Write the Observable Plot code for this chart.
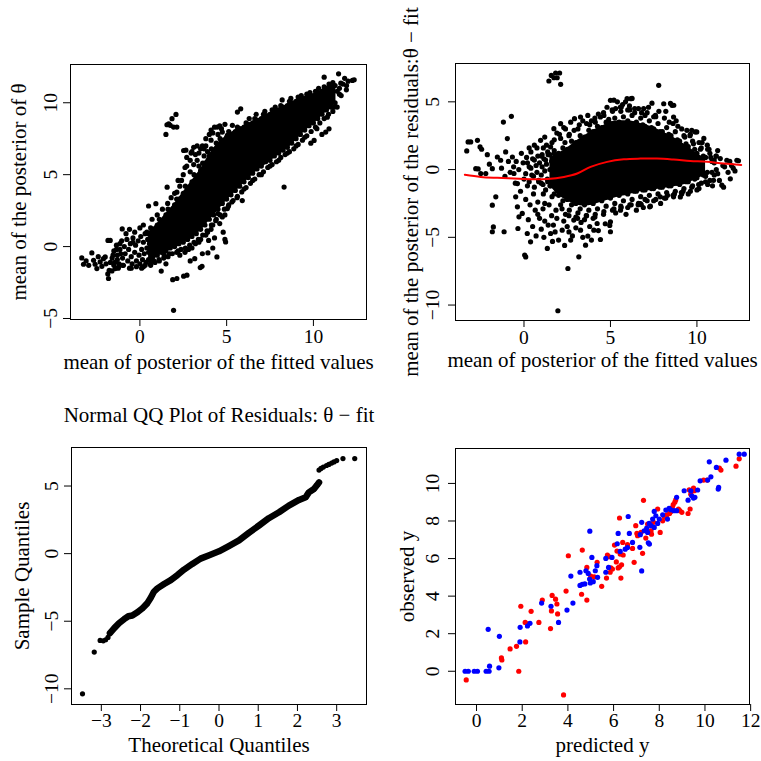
<!DOCTYPE html>
<html><head><meta charset="utf-8">
<script src="https://cdn.jsdelivr.net/npm/d3@7"></script>
<script src="https://cdn.jsdelivr.net/npm/@observablehq/plot@0.6"></script>
<style>
body{margin:0;background:#fff;}
#wrap{position:relative;width:761px;height:761px;overflow:hidden;background:#fff;}
</style></head><body><div id="wrap"></div>
<script>
// ---------- Top-left: theta vs fitted ----------
// dense core of the cloud: [x, lower y, upper y]
const tlCore = [[0.5,-1.0,1.0],[1.0,-0.7,1.6],[1.5,-0.4,2.3],[2.0,-0.1,3.0],[2.5,0.2,3.8],[3.0,0.6,4.6],[3.5,1.1,5.4],[4.0,1.8,6.4],[4.5,2.5,7.2],[5.0,3.2,7.7],[5.5,3.8,8.1],[6.0,4.4,8.4],[6.5,5.0,8.7],[7.0,5.5,9.0],[7.5,5.9,9.3],[8.0,6.4,9.6],[8.5,6.8,9.9],[9.0,7.4,10.2],[9.5,8.0,10.4],[10.0,8.5,10.6],[10.5,9.1,10.9],[11.0,9.6,11.2],[11.3,10.0,11.3]];
const tlPts = [
[-3.35,-0.79],[-3.25,-1.23],[-3.1,-1.0],[-2.95,-1.3],[-2.77,-0.44],[-2.67,-0.95],[-2.58,-1.23],[-2.48,-1.53],[-2.4,-0.7],[-2.29,-1.07],[-2.19,-1.37],[-2.1,-0.84],[-2.0,-0.72],[-1.95,-1.2],[-1.81,-2.22],[-1.85,-1.9],[-1.77,-1.65],[-1.84,0.43],[-1.71,0.43],[-1.7,-1.1],[-1.61,-1.69],[-1.55,-0.6],[-1.5,-1.3],[-1.42,-1.53],[-1.35,-0.2],[-1.3,-0.9],[-1.23,-1.42],[-1.15,0.2],[-1.1,-0.5],[-1.02,1.23],[-1.0,-1.3],
[-0.8,0.9],[-0.6,1.2],[-0.5,-1.5],[-0.4,0.3],[-0.3,1.0],[-0.2,-1.4],[0.0,1.3],[0.1,-1.5],[0.2,1.5],[0.3,-1.3],[0.5,2.82],[0.4,1.0],[0.6,-1.2],[0.7,1.9],[0.8,-1.0],[0.92,2.98],[1.0,2.2],[1.1,-0.9],[1.23,-1.7],[1.3,2.6],[1.5,-1.2],[1.4,-0.6],[1.57,4.13],[1.6,3.0],[1.7,-0.5],[1.89,-2.3],[1.94,-4.43],[1.8,3.4],[2.0,3.7],[2.13,-2.22],[2.13,3.78],[2.2,-0.3],[2.3,4.2],[2.4,4.6],[2.52,-2.06],[2.52,6.68],[2.6,5.5],[2.71,-1.99],[2.7,6.2],[2.8,-0.2],[2.9,5.2],[3.0,6.6],[3.1,6.9],[3.16,-0.84],[3.2,0.2],[3.3,6.0],[3.4,6.5],[3.48,-1.46],[3.58,-1.37],[3.5,0.5],[3.6,7.0],[3.7,6.8],[3.8,7.5],[3.92,-0.44],[3.96,0.43],[3.9,1.0],[4.0,7.8],[4.1,8.1],[4.2,1.5],[4.3,8.3],[4.44,-0.72],[4.4,1.9],[4.46,8.31],[4.5,2.3],[4.6,8.4],[4.75,7.96],[4.75,2.06],[4.94,0.32],[4.9,0.5],[5.04,2.64],[5.04,7.73],[5.33,8.43],[5.62,9.35],[5.81,9.58],[5.9,3.2],[5.6,3.4],[6.0,4.0],[6.3,8.9],[6.5,4.6],[6.7,9.2],[7.0,5.0],[7.2,9.4],[7.5,5.6],[7.8,9.7],[8.0,6.0],[8.31,4.14],[8.2,10.2],[8.5,6.5],[8.7,10.3],[9.0,7.0],[9.3,10.5],[9.5,7.6],[9.85,7.19],[10.04,7.38],[9.8,10.7],[10.2,8.2],[10.3,11.0],[10.49,7.8],[10.71,7.96],[10.9,8.19],[10.62,11.78],[10.8,9.0],[10.9,11.3],[11.1,10.74],[11.2,9.7],[11.45,12.01],[11.58,11.36],[11.91,11.2],[11.5,10.6],[12.25,11.55],[12.35,11.6],[11.9,10.9],
[2.08,9.19],[1.85,8.89],[1.66,8.54],[1.56,8.47],[1.75,8.43],[1.94,8.31],[2.13,8.31],[1.5,7.8],
[11.5,11.0],[11.7,11.3],[11.6,10.5],[12.0,11.5],[11.8,11.7],
[2.2,4.6],[2.5,5.0],[2.7,5.6],[2.9,6.0],[3.1,5.7],[3.2,6.4],[3.4,5.6],[3.5,6.8],[3.7,6.3],[3.8,7.0],[3.9,6.6],[4.1,7.4],[4.2,7.9],[4.4,7.2],[4.5,7.8],[4.7,8.2],[4.9,8.5],[3.3,7.0],[2.95,6.5],[2.65,6.7],
[2.3,-0.6],[2.6,-0.4],[3.0,-0.1],[3.4,0.3],[3.8,0.8],[4.1,1.2],[4.3,0.6],[4.6,1.6],[4.9,2.2],[5.1,2.8],[5.3,3.1],[4.8,1.0],[4.2,-0.1],[3.6,-0.5],[2.9,-1.0]
];
const tlLeft = [[-1.6,-0.8],[-1.5,-0.3],[-1.45,-1.1],[-1.35,0.1],[-1.3,-0.6],[-1.2,-1.2],[-1.15,-0.2],[-1.05,0.4],[-1.0,-0.8],[-0.95,-1.3],[-0.9,0.0],[-0.85,-0.5],[-0.75,0.5],[-0.7,-1.0],[-0.65,-0.2],[-0.55,0.2],[-0.5,-0.7],[-0.45,-1.2],[-0.4,0.6],[-0.3,-0.4],[-0.25,0.1],[-0.2,-1.0],[-0.1,0.4],[-0.05,-0.6],[0.0,-1.2],[0.05,0.7],[0.1,-0.2],[0.15,-0.9],[0.2,0.3],[0.25,-0.5],[0.3,0.9],[0.35,-1.1],[0.4,-0.1],[0.45,0.5],[0.5,-0.4],[0.55,0.2],[0.6,-0.9],[0.65,0.6],[-1.25,-1.5],[-0.6,-1.5],[0.2,-1.4]];
const tlUpper = [[0.5,0.9],[0.62,1.3],[0.75,1.1],[0.87,0.8],[1.0,1.5],[1.12,1.9],[1.25,1.8],[1.37,1.4],[1.5,2.2],[1.62,2.6],[1.75,2.5],[1.87,2.0],[2.0,2.9],[2.12,3.3],[2.25,3.3],[2.37,2.8],[2.5,3.7],[2.62,4.2],[2.75,4.1],[2.87,3.6],[3.0,4.5],[3.12,5.0],[3.25,4.9],[3.37,4.4],[3.5,5.3],[3.62,5.8],[3.75,5.8],[3.87,5.2],[4.0,6.3],[4.12,6.8],[4.25,6.7],[4.37,6.2],[4.5,7.1],[4.62,7.5],[4.75,7.3],[4.87,6.9],[5.0,7.6],[5.12,8.0],[5.25,7.8],[5.37,7.4],[5.5,8.0],[5.62,8.3],[5.75,8.2],[5.87,7.7],[6.0,8.3],[6.12,8.6],[6.25,8.5],[6.37,8.0],[6.5,8.6],[6.62,8.9],[6.75,8.8],[6.87,8.3],[7.0,8.9],[7.12,9.2],[7.25,9.1],[7.37,8.6],[7.5,9.2],[7.62,9.5],[7.75,9.4],[7.87,8.9],[8.0,9.5],[8.12,9.8],[8.25,9.7],[8.37,9.2],[8.5,9.8],[8.62,10.1],[8.75,10.0],[8.87,9.5],[9.0,10.1],[9.12,10.4],[9.25,10.3],[9.37,9.8],[9.5,10.3],[9.62,10.6],[9.75,10.5],[9.87,10.0],[10.0,10.5],[10.12,10.8],[10.25,10.7],[10.37,10.3],[10.5,10.8],[10.62,11.1],[10.75,11.0],[10.87,10.6],[11.0,11.1],[11.12,11.4],[11.25,11.2],[11.37,10.8]];
const tlLower = [[0.5,-0.9],[0.62,-1.3],[0.75,-0.7],[0.87,-1.1],[1.0,-0.6],[1.12,-1.0],[1.25,-0.4],[1.37,-0.8],[1.5,-0.3],[1.62,-0.7],[1.75,-0.1],[1.87,-0.5],[2.0,0.0],[2.12,-0.4],[2.25,0.2],[2.37,-0.2],[2.5,0.3],[2.62,-0.1],[2.75,0.5],[2.87,0.1],[3.0,0.7],[3.12,0.3],[3.25,0.9],[3.37,0.5],[3.5,1.2],[3.62,0.8],[3.75,1.5],[3.87,1.1],[4.0,1.9],[4.12,1.5],[4.25,2.2],[4.37,1.8],[4.5,2.6],[4.62,2.2],[4.75,3.0],[4.87,2.6],[5.0,3.3],[5.12,2.9],[5.25,3.6],[5.37,3.2],[5.5,3.9],[5.62,3.5],[5.75,4.2],[5.87,3.8],[6.0,4.5],[6.12,4.1],[6.25,4.8],[6.37,4.4],[6.5,5.1],[6.62,4.7],[6.75,5.4],[6.87,5.0],[7.0,5.6],[7.12,5.2],[7.25,5.9],[7.37,5.5],[7.5,6.0],[7.62,5.7],[7.75,6.3],[7.87,5.9],[8.0,6.5],[8.12,6.2],[8.25,6.7],[8.37,6.4],[8.5,6.9],[8.62,6.6],[8.75,7.2],[8.87,6.8],[9.0,7.5],[9.12,7.1],[9.25,7.8],[9.37,7.4],[9.5,8.1],[9.62,7.7],[9.75,8.4],[9.87,8.0],[10.0,8.6],[10.12,8.3],[10.25,8.9],[10.37,8.6],[10.5,9.2],[10.62,8.9],[10.75,9.5],[10.87,9.2],[11.0,9.7],[11.12,9.4],[11.25,10.0],[11.37,9.7]];
const tlXTicks = [0,5,10];
const tlYTicks = [-5,0,5,10];

// ---------- Top-right: residuals vs fitted ----------
const trCore = [[1.5,-1.2,0.9],[2.0,-1.9,1.2],[2.5,-2.3,1.6],[3.0,-2.6,2.1],[3.5,-2.7,2.5],[4.0,-2.6,2.9],[4.5,-2.4,3.2],[5.0,-2.2,3.5],[5.5,-2.0,3.6],[6.0,-1.9,3.6],[6.5,-1.7,3.5],[7.0,-1.6,3.3],[7.5,-1.5,3.1],[8.0,-1.4,2.8],[8.5,-1.3,2.5],[9.0,-1.2,2.1],[9.5,-1.0,1.7],[10.0,-0.7,1.2],[10.5,-0.4,0.8]];
const trPts = [
[-3.31,1.38],[-3.23,2.04],[-3.08,2.04],[-2.69,2.16],[-2.54,1.67],[-2.45,1.5],[-2.79,0.07],[-2.65,0.05],[-2.5,-0.29],[-2.21,-0.29],[-2.12,1.1],[-2.0,0.4],[-1.83,0.07],[-1.83,-2.63],[-1.63,-2.01],[-1.77,-4.23],[-1.83,-4.59],[-1.15,-4.59],[-1.19,3.51],[-0.73,3.93],[-0.96,2.29],[-1.54,0.93],[-1.35,0.69],[-1.3,0.1],[-1.06,1.3],[-1.1,-0.5],[-0.9,0.6],[-0.8,-0.2],[-0.67,0.93],[-0.6,0.2],[-0.58,-0.29],[-0.5,-1.0],[-0.45,0.6],[-0.38,-1.03],[-0.3,0.0],[-0.48,-2.01],[-0.38,-2.75],[-0.29,-3.49],[-0.35,-4.35],[-0.2,-1.6],[-0.15,1.2],[-0.1,-3.24],[-0.05,0.5],[0.0,-0.7],[0.04,-6.31],[0.1,-6.45],[0.1,-2.2],[0.15,0.9],[0.19,-4.72],[0.2,-1.2],[0.25,-3.7],[0.3,0.2],[0.38,-5.33],[0.35,-2.6],[0.4,1.3],[0.45,-0.4],[0.5,-4.2],[0.55,-1.8],[0.6,0.7],[0.65,-3.0],[0.7,-4.9],[0.75,1.6],[0.8,-2.4],[0.85,-0.9],[0.9,-3.6],[0.96,2.16],[1.0,-4.4],[1.05,1.1],[1.1,-2.9],[1.15,-5.0],[1.2,-3.8],[1.3,1.8],[1.35,-5.82],[1.4,-4.1],[1.45,-2.6],[1.54,1.67],[1.54,-4.72],[1.6,-3.4],[1.65,-5.3],[1.73,3.02],[1.75,2.2],[1.8,-4.6],[1.85,-3.0],[1.96,-10.42],[2.0,-5.2],[2.05,2.6],[2.12,3.39],[2.21,-4.47],[2.3,-3.8],[2.35,-5.6],[2.4,3.0],[2.5,-4.2],[2.54,-7.3],[2.6,-3.4],[2.7,3.5],[2.8,-4.9],[2.88,-3.73],[2.92,3.76],[3.0,-4.3],[3.1,-3.6],[3.17,-6.44],[3.27,3.88],[3.27,-4.47],[3.4,-5.0],[3.5,-3.7],[3.56,-5.58],[3.69,4.0],[3.69,-4.91],[3.8,-4.2],[3.9,3.6],[4.04,-4.47],[4.1,-3.5],[4.23,-3.98],[4.3,4.1],[4.42,3.88],[4.42,-5.16],[4.6,-3.3],[4.8,4.6],[5.0,5.11],[5.0,-3.86],[5.0,-4.59],[4.96,-4.12],[5.1,4.4],[5.2,5.12],[5.3,-3.2],[5.58,4.62],[5.58,-3.0],[5.7,4.8],[5.87,5.0],[5.96,5.23],[6.0,-2.8],[6.19,5.23],[6.25,5.25],[6.4,4.2],[6.6,-2.6],[6.73,-2.51],[6.78,-2.58],[6.92,4.5],[7.0,4.0],[7.27,-2.75],[7.31,-2.7],[7.5,3.9],[7.79,6.22],[7.8,4.3],[7.88,-2.01],[8.08,4.86],[8.2,-2.1],[8.47,4.88],[8.56,4.74],[8.65,3.88],[8.65,-2.01],[8.66,4.75],[8.9,3.2],[9.04,-2.02],[9.2,-1.6],[9.42,2.9],[9.6,2.5],[9.7,-1.3],[9.9,2.78],[9.99,2.78],[10.1,-1.1],[10.3,2.0],[10.5,-0.9],[10.7,1.5],[10.96,-0.79],[11.0,0.5],[11.1,1.0],[11.2,-0.3],[11.35,0.81],[11.44,-1.15],[11.54,-1.3],[11.6,0.2],[11.73,0.69],[11.93,-0.68],[12.0,0.3],[12.31,0.69],[12.4,0.65],
[1.44,6.54],[1.58,6.95],[1.83,7.13],[2.06,7.13],[1.92,6.78],[2.12,6.29],[1.73,6.78],
[0.8,-3.3],[1.2,-2.5],[1.9,-3.6],[2.2,-2.9],[2.6,-4.6],[3.0,-3.5],[3.3,-3.9],[3.6,-3.4],[4.0,-3.6],[4.3,-4.5],[4.7,-4.0],[2.7,-5.2],[1.7,-4.1],[2.4,-3.3],[3.9,-5.2],
[1.9,2.7],[2.3,3.1],[2.6,2.5],[3.2,3.3],[3.4,3.6],[3.8,3.3],[4.1,3.8],[4.6,4.2],[4.9,3.7],[2.9,2.9],[1.2,2.4],[0.6,1.8],[0.3,1.6],
[9.3,2.4],[9.8,1.9],[10.2,1.5],[10.4,2.3],[10.8,0.9],[11.2,1.4],[11.5,0.3],[11.8,-0.2],[12.1,0.1],[10.6,-0.2],[10.9,-1.2],[11.3,-0.8],[10.0,-1.5],[9.5,-1.8],[9.7,2.9],[10.6,1.8],[11.9,0.6],[12.2,-0.1],
[5.3,4.5],[5.6,4.3],[6.1,4.7],[6.4,4.5],[6.8,4.2],[7.2,4.6],[7.6,4.0],[8.2,4.3],[8.4,3.5],[5.4,5.0],[6.0,4.4],[7.4,4.9],[8.8,3.6],
[5.2,-2.9],[5.6,-2.7],[6.2,-2.6],[6.5,-3.0],[7.0,-2.2],[7.5,-2.3],[7.9,-2.5],[8.3,-1.9],[8.7,-1.8],[9.1,-1.7],[5.9,-3.3],[6.9,-2.8]
];
const trLeft = [[0.1,-0.3],[0.2,0.5],[0.3,-0.9],[0.4,0.1],[0.5,0.8],[0.55,-0.5],[0.6,-1.3],[0.7,0.3],[0.75,-0.2],[0.8,1.0],[0.85,-0.8],[0.9,0.5],[1.0,-0.4],[1.05,0.2],[1.1,-1.1],[1.15,0.8],[1.2,-0.1],[1.3,0.4],[1.35,-0.7],[1.4,1.1],[1.5,0.0],[1.55,-1.2],[1.6,0.6],[1.7,-0.4],[1.75,1.2],[1.8,-0.9],[1.9,0.3],[1.95,-1.5],[2.0,0.9],[2.1,-0.6]];
const trUpper = [[1.0,1.0],[1.12,1.6],[1.25,0.7],[1.37,1.3],[1.5,1.1],[1.62,2.0],[1.75,1.4],[1.87,0.9],[2.0,1.2],[2.12,2.3],[2.25,1.6],[2.37,2.0],[2.5,1.5],[2.62,2.6],[2.75,2.1],[2.87,1.7],[3.0,2.0],[3.12,3.0],[3.25,2.5],[3.37,2.2],[3.5,2.4],[3.62,3.4],[3.75,2.9],[3.87,2.6],[4.0,2.8],[4.12,3.5],[4.25,3.2],[4.37,2.7],[4.5,3.1],[4.62,4.0],[4.75,3.5],[4.87,3.0],[5.0,3.4],[5.12,4.3],[5.25,3.8],[5.37,3.3],[5.5,3.5],[5.62,4.6],[5.75,3.9],[5.87,3.4],[6.0,3.6],[6.12,4.4],[6.25,4.0],[6.37,3.4],[6.5,3.5],[6.62,4.5],[6.75,3.8],[6.87,3.3],[7.0,3.2],[7.12,4.2],[7.25,3.6],[7.37,3.1],[7.5,3.0],[7.62,3.9],[7.75,3.4],[7.87,2.8],[8.0,2.8],[8.12,3.8],[8.25,3.1],[8.37,2.6],[8.5,2.5],[8.62,3.4],[8.75,2.8],[8.87,2.2],[9.0,2.1],[9.12,3.0],[9.25,2.5],[9.37,1.9],[9.5,1.7],[9.62,2.6],[9.75,2.1],[9.87,1.5],[10.0,1.2],[10.12,2.0],[10.25,1.6],[10.37,1.0],[10.5,0.9],[10.62,1.5],[10.75,1.2],[10.87,0.6],[11.0,0.7],[11.12,1.0]];
const trLower = [[1.0,-1.0],[1.12,-1.8],[1.25,-1.5],[1.37,-0.9],[1.5,-1.2],[1.62,-2.0],[1.75,-1.8],[1.87,-1.4],[2.0,-1.9],[2.12,-2.6],[2.25,-2.3],[2.37,-1.7],[2.5,-2.2],[2.62,-3.0],[2.75,-2.6],[2.87,-2.0],[3.0,-2.5],[3.12,-3.2],[3.25,-2.9],[3.37,-2.3],[3.5,-2.6],[3.62,-3.4],[3.75,-3.0],[3.87,-2.4],[4.0,-2.5],[4.12,-3.3],[4.25,-2.9],[4.37,-2.2],[4.5,-2.3],[4.62,-3.1],[4.75,-2.7],[4.87,-2.0],[5.0,-2.1],[5.12,-3.0],[5.25,-2.5],[5.37,-1.8],[5.5,-1.9],[5.62,-2.8],[5.75,-2.3],[5.87,-1.7],[6.0,-1.8],[6.12,-2.6],[6.25,-2.2],[6.37,-1.6],[6.5,-1.6],[6.62,-2.5],[6.75,-2.0],[6.87,-1.5],[7.0,-1.5],[7.12,-2.3],[7.25,-1.9],[7.37,-1.4],[7.5,-1.4],[7.62,-2.2],[7.75,-1.8],[7.87,-1.3],[8.0,-1.3],[8.12,-2.1],[8.25,-1.7],[8.37,-1.2],[8.5,-1.2],[8.62,-1.9],[8.75,-1.6],[8.87,-1.0],[9.0,-1.1],[9.12,-1.8],[9.25,-1.4],[9.37,-0.9],[9.5,-0.9],[9.62,-1.6],[9.75,-1.2],[9.87,-0.7],[10.0,-0.6],[10.12,-1.4],[10.25,-1.0],[10.37,-0.4],[10.5,-0.5],[10.62,-1.1],[10.75,-0.8],[10.87,-0.2],[11.0,-0.4],[11.12,0.0]];
const trFit = [[-3.42,-0.39],[-2.5,-0.54],[-1.54,-0.61],[-0.58,-0.66],[0.38,-0.71],[1.35,-0.69],[2.31,-0.54],[3.08,-0.29],[3.85,0.2],[4.81,0.57],[5.77,0.76],[6.73,0.81],[7.69,0.81],[8.65,0.74],[9.62,0.64],[10.58,0.57],[11.54,0.44],[12.56,0.34]];
const trXTicks = [0,5,10];
const trYTicks = [-10,-5,0,5];

// ---------- Bottom-left: normal QQ ----------
const qqLow = [[-3.48,-10.37],[-3.18,-7.28],[-3.03,-6.42],[-2.95,-6.45],[-2.89,-6.37],[-2.83,-6.2]];
const qqBody = [[-2.78,-5.88],[-2.67,-5.51],[-2.55,-5.15],[-2.42,-4.85],[-2.31,-4.63],[-2.21,-4.58],[-2.08,-4.34],[-1.95,-4.04],[-1.83,-3.68],[-1.74,-3.26],[-1.66,-2.82],[-1.57,-2.57],[-1.4,-2.25],[-1.23,-1.96],[-1.06,-1.59],[-0.89,-1.18],[-0.68,-0.76],[-0.47,-0.37],[-0.25,-0.12],[0.0,0.17],[0.25,0.56],[0.51,0.98],[0.76,1.54],[1.02,2.08],[1.27,2.62],[1.53,3.06],[1.78,3.55],[2.04,3.97],[2.21,4.17],[2.29,4.53],[2.42,4.78],[2.5,5.07],[2.55,5.27]];
const qqHigh = [[2.55,6.18],[2.6,6.3],[2.66,6.4],[2.74,6.52],[2.8,6.6],[2.87,6.7],[2.93,6.78],[3.0,6.88],[3.16,7.03],[3.46,7.03]];
const qqXTicks = [-3,-2,-1,0,1,2,3];
const qqYTicks = [-10,-5,0,5];

// ---------- Bottom-right: observed vs predicted ----------
const brBlue = [[-0.5,0],[-0.36,0],[-0.1,0],[0.04,0],[0.42,0],[0.55,0],[0.57,0.27],[0.98,0.18],[0.51,2.23],[1.0,1.86],[1.9,1.56],[1.91,2.34],[2.23,2.41],[2.34,2.55],[2.85,3.63],[3.26,3.46],[3.59,2.6],[3.96,3.26],[4.22,3.63],[4.13,5.07],[4.53,5.27],[4.53,4.57],[4.63,4.63],[4.74,4.65],[4.79,5.35],[4.89,5.21],[4.96,7.46],[4.95,4.91],[4.98,4.7],[5.05,6.06],[5.11,4.77],[5.2,5.35],[5.27,5.62],[5.3,5.0],[5.66,5.27],[5.66,6.01],[5.78,5.53],[5.93,6.06],[6.16,6.79],[6.2,7.34],[6.29,6.38],[6.51,6.5],[6.61,6.59],[6.64,8.24],[6.69,7.34],[6.83,6.86],[7.15,6.6],[7.17,7.27],[7.23,5.34],[7.23,7.93],[7.34,7.48],[7.45,7.62],[7.49,7.39],[7.52,6.84],[7.57,6.77],[7.56,7.87],[7.64,7.75],[7.71,8.1],[7.78,8.51],[7.78,7.66],[7.85,8.28],[7.93,7.87],[8.0,8.1],[8.15,8.33],[8.29,8.58],[8.36,8.1],[8.43,8.67],[8.5,8.6],[8.64,8.55],[8.76,9.26],[8.76,8.55],[9.09,9.61],[9.26,9.11],[9.38,9.61],[9.42,9.34],[9.5,9.22],[9.56,9.26],[9.68,9.65],[9.79,10.14],[10.12,10.18],[10.19,11.15],[10.26,10.35],[10.5,10.85],[10.58,9.7],[10.6,9.79],[10.92,11.24],[11.5,11.56],[11.72,11.56]];
const brRed = [[-0.45,-0.46],[1.09,0.71],[1.11,0.6],[1.47,1.19],[1.75,1.33],[1.85,0],[1.94,3.46],[2.13,2.6],[2.15,1.56],[2.23,2.53],[2.39,3.19],[2.73,2.6],[2.88,3.79],[3.24,2.27],[3.28,3.21],[3.31,4.04],[3.46,3.84],[3.52,3.58],[3.55,3.05],[3.81,-1.26],[3.92,4.27],[4.02,6.15],[4.6,4.1],[4.63,6.45],[4.83,3.79],[4.83,5.53],[5.0,5.07],[5.15,5.02],[5.28,5.8],[5.48,4.52],[5.69,4.96],[5.73,6.19],[5.79,6.1],[5.85,5.27],[5.88,5.5],[5.95,5.44],[6.04,6.72],[6.12,5.82],[6.15,6.4],[6.2,5.5],[6.26,8.16],[6.26,5.56],[6.29,6.24],[6.32,4.96],[6.35,5.67],[6.4,6.86],[6.42,6.19],[6.61,6.74],[6.83,6.54],[6.9,5.8],[6.97,7.75],[7.02,7.34],[7.05,7.22],[7.2,7.39],[7.27,6.28],[7.31,9.1],[7.41,7.09],[7.49,7.84],[7.64,7.48],[7.66,7.3],[7.75,7.93],[7.93,8.64],[8.04,7.39],[8.15,8.01],[8.22,8.23],[8.34,8.33],[8.45,8.4],[8.5,8.49],[8.57,8.72],[8.61,8.87],[8.68,9.0],[8.72,9.12],[8.84,8.64],[8.9,8.55],[8.99,8.46],[9.26,8.4],[9.31,9.66],[9.35,8.64],[9.38,9.43],[9.5,9.75],[9.53,9.61],[9.94,10.18],[10.09,10.18],[10.63,10.82],[10.7,10.71],[11.36,10.92],[11.5,11.31]];
const brXTicks = [0,2,4,6,8,10,12];
const brYTicks = [0,2,4,6,8,10];

// ---------- Labels ----------
const tlXLabel = "mean of posterior of the fitted values";
const tlYLabel = "mean of the posterior of θ";
const trXLabel = "mean of posterior of the fitted values";
const trYLabel = "mean of the posterior of the residuals:θ − fit";
const qqTitle = "Normal QQ Plot of Residuals: θ − fit";
const qqXLabel = "Theoretical Quantiles";
const qqYLabel = "Sample Quantiles";
const brXLabel = "predicted y";
const brYLabel = "observed y";

const FONT = "Liberation Serif";
const fmt = d3.format("d");
const X = d => d[0], Y = d => d[1];
const dots = (data, fill = "black") => Plot.dot(data, {x: X, y: Y, r: 2.6, fill, stroke: "none"});
const core = (data) => Plot.area(data, {x1: d => d[0], y1: d => d[1], y2: d => d[2], fill: "black", curve: "catmull-rom"});

function panel(o) {
  const marks = [
    ...o.marks,
    Plot.frame({stroke: "black", strokeWidth: 1}),
    Plot.axisX(o.xTicks, {anchor: "bottom", tickSize: 7, fill: "none", stroke: "black"}),
    Plot.axisY(o.yTicks, {anchor: "left", tickSize: 7, fill: "none", stroke: "black"}),
    Plot.text(o.xTicks, {x: d => d, text: d => fmt(d), frameAnchor: "bottom", dy: o.xTickDy, lineAnchor: "bottom", textAnchor: "middle", fontSize: 19.5, fill: "black"}),
    Plot.text(o.yTicks, {y: d => d, text: d => fmt(d), frameAnchor: "left", dx: o.yTickDx, rotate: -90, lineAnchor: "bottom", textAnchor: "middle", fontSize: 19.5, fill: "black"}),
    Plot.text([o.xLabel], {text: d => d, frameAnchor: "bottom", dy: o.xLabelDy, lineAnchor: "bottom", textAnchor: "middle", fontSize: 21, fill: "black"}),
    Plot.text([o.yLabel], {text: d => d, frameAnchor: "left", dx: o.yLabelDx, rotate: -90, lineAnchor: "bottom", textAnchor: "middle", fontSize: 21, fill: "black"})
  ];
  if (o.title) marks.push(Plot.text([o.title], {text: d => d, frameAnchor: "top", dy: o.titleDy, lineAnchor: "bottom", textAnchor: "middle", fontSize: 21, fill: "black"}));
  const svg = Plot.plot({
    width: o.width, height: o.height,
    marginLeft: o.m[0], marginRight: o.m[1], marginTop: o.m[2], marginBottom: o.m[3],
    x: {domain: o.xDomain}, y: {domain: o.yDomain},
    style: {fontFamily: FONT, background: "transparent", overflow: "visible", color: "black"},
    marks
  });
  svg.style.position = "absolute";
  svg.style.left = o.left + "px";
  svg.style.top = o.top + "px";
  document.getElementById("wrap").appendChild(svg);
}

panel({
  left: 0, top: 0, width: 380, height: 380, m: [70, 14, 64, 61],
  xDomain: [-4.0, 13.06], yDomain: [-5.07, 12.66],
  xTicks: tlXTicks, yTicks: tlYTicks,
  xTickDy: 23.4, yTickDx: -14, xLabelDy: 49.4, yLabelDx: -45,
  xLabel: tlXLabel, yLabel: tlYLabel,
  marks: [core(tlCore), dots(tlPts), dots(tlLeft), dots(tlUpper), dots(tlLower)]
});

panel({
  left: 380, top: 0, width: 381, height: 380, m: [75, 12, 63, 60],
  xDomain: [-3.96, 13.04], yDomain: [-11.14, 7.83],
  xTicks: trXTicks, yTicks: trYTicks,
  xTickDy: 23.3, yTickDx: -16.4, xLabelDy: 46.5, yLabelDx: -38,
  xLabel: trXLabel, yLabel: trYLabel,
  marks: [
    core(trCore), dots(trPts), dots(trLeft), dots(trUpper), dots(trLower),
    Plot.line(trFit, {x: X, y: Y, stroke: "#ff0000", strokeWidth: 2, curve: "catmull-rom"})
  ]
});

panel({
  left: 0, top: 380, width: 380, height: 381, m: [71, 14, 67, 57],
  xDomain: [-3.76, 3.76], yDomain: [-11.16, 7.85],
  xTicks: qqXTicks, yTicks: qqYTicks,
  xTickDy: 22.7, yTickDx: -14, xLabelDy: 47.7, yLabelDx: -43,
  xLabel: qqXLabel, yLabel: qqYLabel, title: qqTitle, titleDy: -25.8,
  marks: [
    Plot.line(qqBody, {x: X, y: Y, stroke: "black", strokeWidth: 6.5, strokeLinecap: "round", strokeLinejoin: "round"}),
    dots(qqBody), dots(qqLow), dots(qqHigh)
  ]
});

panel({
  left: 380, top: 380, width: 381, height: 381, m: [75, 12, 68, 57],
  xDomain: [-0.92, 11.95], yDomain: [-1.77, 11.86],
  xTicks: brXTicks, yTicks: brYTicks,
  xTickDy: 22.7, yTickDx: -16.4, xLabelDy: 47.7, yLabelDx: -42,
  xLabel: brXLabel, yLabel: brYLabel,
  marks: [dots(brRed, "#ff0000"), dots(brBlue, "#0000ff")]
});
</script>
</body></html>
